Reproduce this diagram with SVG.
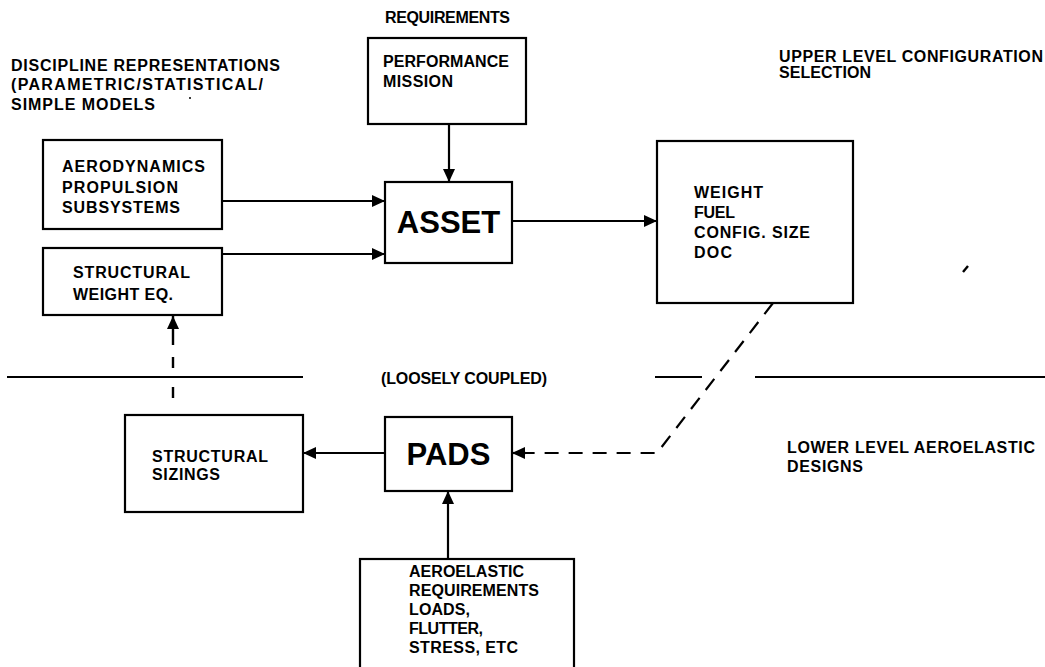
<svg xmlns="http://www.w3.org/2000/svg" width="1045" height="667" viewBox="0 0 1045 667">
  <style>
    .box { fill: #fff; stroke: #000; stroke-width: 2.2; }
    .lbl { font-family: "Liberation Sans", Arial, sans-serif; font-weight: bold; font-size: 16px; fill: #000; }
    .big { font-family: "Liberation Sans", Arial, sans-serif; font-weight: bold; font-size: 31px; fill: #000; }
    .rule { stroke: #000; stroke-width: 2; fill: none; }
    .flow { stroke: #000; stroke-width: 2.2; fill: none; marker-end: url(#head); }
    .dash { stroke: #000; stroke-width: 2.2; fill: none; stroke-dasharray: 14 10; }
  </style>
  <defs>
    <marker id="head" markerUnits="userSpaceOnUse" markerWidth="14" markerHeight="12" refX="13" refY="6" orient="auto">
      <path d="M0,0 L13,6 L0,12 z" fill="#000"/>
    </marker>
  </defs>
  <rect width="1045" height="667" fill="#fff"/>

  <!-- free-standing captions -->
  <g id="captions">
    <text class="lbl" x="385" y="23" textLength="125">REQUIREMENTS</text>
    <text class="lbl" x="11" y="71" textLength="269">DISCIPLINE REPRESENTATIONS</text>
    <text class="lbl" x="11" y="90" textLength="252">(PARAMETRIC/STATISTICAL/</text>
    <text class="lbl" x="11" y="110" textLength="144">SIMPLE MODELS</text>
    <text class="lbl" x="779" y="62" textLength="264">UPPER LEVEL CONFIGURATION</text>
    <text class="lbl" x="779" y="78" textLength="92">SELECTION</text>
    <text class="lbl" x="381" y="384" textLength="166">(LOOSELY COUPLED)</text>
    <text class="lbl" x="787" y="453" textLength="248">LOWER LEVEL AEROELASTIC</text>
    <text class="lbl" x="787" y="472" textLength="76">DESIGNS</text>
  </g>

  <!-- level dividers -->
  <g id="dividers">
    <line class="rule" x1="7" y1="377" x2="303" y2="377"/>
    <line class="rule" x1="655" y1="377" x2="702" y2="377"/>
    <line class="rule" x1="755" y1="377" x2="1045" y2="377"/>
  </g>

  <!-- stray marks -->
  <g id="marks">
    <circle cx="190" cy="98" r="1" fill="#000"/>
    <line x1="963" y1="272" x2="968" y2="266" stroke="#000" stroke-width="2.4"/>
  </g>

  <g id="node-performance">
    <rect class="box" x="368" y="38" width="158" height="86"/>
    <text class="lbl" x="383" y="67" textLength="126">PERFORMANCE</text>
    <text class="lbl" x="383" y="87" textLength="70">MISSION</text>
  </g>

  <g id="node-asset">
    <rect class="box" x="385" y="182" width="127" height="81"/>
    <text class="big" x="448.5" y="233" text-anchor="middle">ASSET</text>
  </g>

  <g id="node-weight">
    <rect class="box" x="657" y="141" width="196" height="162"/>
    <text class="lbl" x="694" y="198" textLength="69">WEIGHT</text>
    <text class="lbl" x="694" y="218" textLength="41">FUEL</text>
    <text class="lbl" x="694" y="238" textLength="116">CONFIG. SIZE</text>
    <text class="lbl" x="694" y="258" textLength="38">DOC</text>
  </g>

  <g id="node-aero">
    <rect class="box" x="43" y="140" width="179" height="89"/>
    <text class="lbl" x="62" y="172" textLength="143">AERODYNAMICS</text>
    <text class="lbl" x="62" y="193" textLength="116">PROPULSION</text>
    <text class="lbl" x="62" y="213" textLength="118">SUBSYSTEMS</text>
  </g>

  <g id="node-structural-weight">
    <rect class="box" x="43" y="248" width="179" height="67"/>
    <text class="lbl" x="73" y="278" textLength="117">STRUCTURAL</text>
    <text class="lbl" x="73" y="300" textLength="100">WEIGHT EQ.</text>
  </g>

  <g id="node-structural-sizings">
    <rect class="box" x="125" y="415" width="178" height="97"/>
    <text class="lbl" x="152" y="462" textLength="116">STRUCTURAL</text>
    <text class="lbl" x="152" y="480" textLength="68">SIZINGS</text>
  </g>

  <g id="node-pads">
    <rect class="box" x="385" y="417" width="127" height="74"/>
    <text class="big" x="448.5" y="465" text-anchor="middle">PADS</text>
  </g>

  <g id="node-aeroelastic">
    <rect class="box" x="360" y="559" width="214" height="120"/>
    <text class="lbl" x="409" y="577" textLength="115">AEROELASTIC</text>
    <text class="lbl" x="409" y="596" textLength="130">REQUIREMENTS</text>
    <text class="lbl" x="409" y="615" textLength="61">LOADS,</text>
    <text class="lbl" x="409" y="634" textLength="74">FLUTTER,</text>
    <text class="lbl" x="409" y="653" textLength="109">STRESS, ETC</text>
  </g>

  <g id="connectors">
    <line class="flow" x1="449" y1="124" x2="449" y2="182"/>
    <line class="flow" x1="222" y1="201" x2="385" y2="201"/>
    <line class="flow" x1="222" y1="254" x2="385" y2="254"/>
    <line class="flow" x1="512" y1="221" x2="657" y2="221"/>
    <line class="flow" x1="385" y1="453" x2="303" y2="453"/>
    <line class="flow" x1="448" y1="559" x2="448" y2="491"/>
    <!-- feedback from sizings to the weight equation -->
    <path d="M173,398 V387 M173,368 V357 M173,345 V330" stroke="#000" stroke-width="2.4" fill="none"/>
    <line x1="173" y1="330" x2="173" y2="316" stroke="#000" stroke-width="2.4" marker-end="url(#head)"/>
    <!-- configuration handed down to PADS -->
    <path class="dash" d="M773,303 L657,453 L525,453"/>
    <line x1="526" y1="453" x2="512" y2="453" stroke="#000" stroke-width="2.2" marker-end="url(#head)"/>
  </g>
</svg>
